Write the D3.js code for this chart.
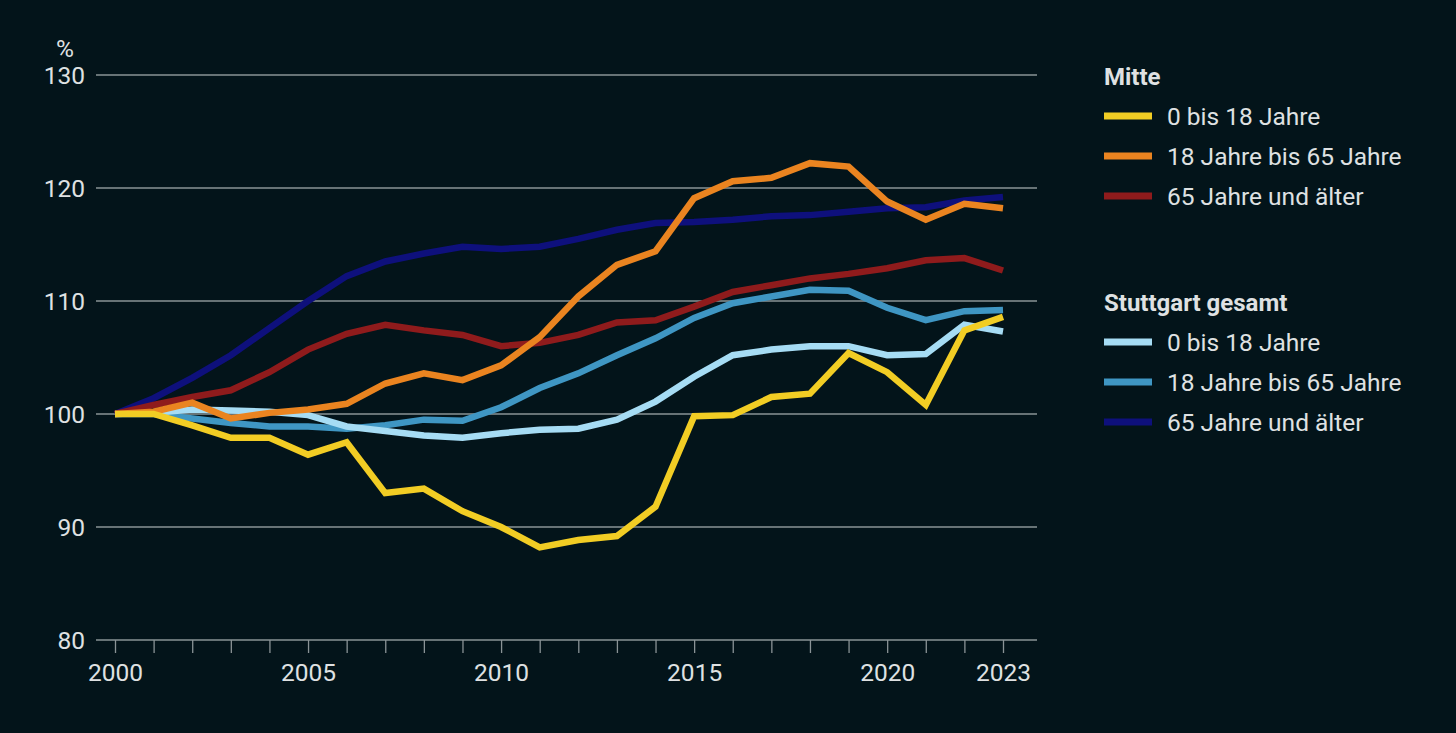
<!DOCTYPE html>
<html>
<head>
<meta charset="utf-8">
<script src="https://cdn.jsdelivr.net/npm/d3@7"></script>
<style>
  html, body { margin: 0; padding: 0; background: #03141a; }
  svg text { font-family: Roboto, "Noto Sans", sans-serif; }
</style>
</head>
<body>
<svg id="chart" width="1456" height="733"></svg>
<script>
var years = d3.range(2000, 2024);

// Mitte
var mitte0to18 = [100, 100, 99.0, 97.9, 97.9, 96.4, 97.5, 93.0, 93.4, 91.4, 90.0, 88.2,
  88.85, 89.2, 91.8, 99.8, 99.9, 101.5, 101.8, 105.4, 103.7, 100.8, 107.4, 108.6];
var mitte18to65 = [100, 100.2, 101.0, 99.6, 100.1, 100.4, 100.9, 102.7, 103.6, 103.0, 104.3, 106.8,
  110.4, 113.2, 114.4, 119.1, 120.6, 120.9, 122.2, 121.9, 118.8, 117.2, 118.6, 118.2];
var mitte65plus = [100, 100.8, 101.5, 102.1, 103.7, 105.7, 107.1, 107.9, 107.4, 107.0, 106.0, 106.3,
  107.0, 108.1, 108.3, 109.5, 110.8, 111.4, 112.0, 112.4, 112.9, 113.6, 113.8, 112.7];

// Stuttgart gesamt
var stgt0to18 = [100, 100.1, 100.4, 100.3, 100.2, 99.9, 98.9, 98.5, 98.1, 97.9, 98.3, 98.6,
  98.7, 99.5, 101.1, 103.3, 105.2, 105.7, 106.0, 106.0, 105.2, 105.3, 107.9, 107.3];
var stgt18to65 = [100, 100.0, 99.6, 99.2, 98.9, 98.9, 98.7, 99.0, 99.5, 99.4, 100.6, 102.3,
  103.6, 105.2, 106.7, 108.5, 109.8, 110.4, 111.0, 110.9, 109.4, 108.3, 109.1, 109.2];
var stgt65plus = [100, 101.4, 103.2, 105.2, 107.6, 110.0, 112.2, 113.5, 114.2, 114.8, 114.6, 114.8,
  115.5, 116.3, 116.9, 117.0, 117.2, 117.5, 117.6, 117.9, 118.2, 118.3, 118.9, 119.2];

var yTicks = [80, 90, 100, 110, 120, 130];
var xTickLabels = [2000, 2005, 2010, 2015, 2020, 2023];
var labels = ["0 bis 18 Jahre", "18 Jahre bis 65 Jahre", "65 Jahre und älter"];
var groupTitles = ["Mitte", "Stuttgart gesamt"];

var colorsMitte = ["#f2cd24", "#ea8420", "#8f1b1c"];
var colorsStgt = ["#a6dcf4", "#3f96c3", "#0e107c"];

var series = [
  { values: stgt65plus, color: colorsStgt[2] },
  { values: stgt18to65, color: colorsStgt[1] },
  { values: stgt0to18, color: colorsStgt[0] },
  { values: mitte65plus, color: colorsMitte[2] },
  { values: mitte18to65, color: colorsMitte[1] },
  { values: mitte0to18, color: colorsMitte[0] }
];

var svg = d3.select("#chart");
var textColor = "#dfe1e2";
var fs = 24.5;

var x = d3.scaleLinear().domain([2000, 2023]).range([115, 1003]);
var y = d3.scaleLinear().domain([80, 130]).range([640, 75]);

// grid
svg.append("g").selectAll("line")
  .data(yTicks.filter(function(d) { return d > 80; }))
  .enter().append("line")
  .attr("x1", 96).attr("x2", 1037)
  .attr("y1", function(d) { return y(d); })
  .attr("y2", function(d) { return y(d); })
  .attr("stroke", "#8a9396")
  .attr("stroke-width", 1.3);

// y labels
svg.append("g").selectAll("text")
  .data(yTicks)
  .enter().append("text")
  .attr("x", 85)
  .attr("y", function(d) { return y(d); })
  .attr("dy", "0.36em")
  .attr("text-anchor", "end")
  .attr("font-size", fs)
  .attr("fill", textColor)
  .text(function(d) { return d; });

svg.append("text")
  .attr("x", 65).attr("y", 48)
  .attr("dy", "0.36em")
  .attr("text-anchor", "middle")
  .attr("font-size", fs)
  .attr("fill", textColor)
  .text("%");

// x axis
var xAxis = d3.axisBottom(x)
  .tickValues(years)
  .tickSize(13)
  .tickFormat(function(d) { return xTickLabels.indexOf(d) >= 0 ? d : ""; });

var ax = svg.append("g")
  .attr("transform", "translate(0," + y(80) + ")")
  .call(xAxis);
ax.select(".domain").remove();
ax.selectAll(".tick line").attr("stroke", "#8a9396").attr("stroke-width", 1.3);
ax.selectAll(".tick text")
  .attr("font-size", fs)
  .attr("fill", textColor)
  .attr("y", 32)
  .attr("dy", "0.36em")
  .style("font-family", "Roboto, 'Noto Sans', sans-serif");
ax.append("line")
  .attr("x1", 96).attr("x2", 1037)
  .attr("stroke", "#8a9396").attr("stroke-width", 1.6);

// lines
var line = d3.line()
  .x(function(d, i) { return x(years[i]); })
  .y(function(d) { return y(d); });

svg.append("g").selectAll("path")
  .data(series)
  .enter().append("path")
  .attr("d", function(s) { return line(s.values); })
  .attr("fill", "none")
  .attr("stroke", function(s) { return s.color; })
  .attr("stroke-width", 6.5)
  .attr("stroke-linejoin", "miter")
  .attr("stroke-linecap", "butt");

// legend
function legendGroup(title, colors, top) {
  var g = svg.append("g");
  g.append("text")
    .attr("x", 1104).attr("y", top)
    .attr("dy", "0.36em")
    .attr("font-size", fs - 0.5)
    .attr("font-weight", "bold")
    .attr("fill", textColor)
    .text(title);
  labels.forEach(function(label, i) {
    var ly = top + 40 + i * 40;
    g.append("line")
      .attr("x1", 1104).attr("x2", 1152)
      .attr("y1", ly).attr("y2", ly)
      .attr("stroke", colors[i])
      .attr("stroke-width", 7);
    g.append("text")
      .attr("x", 1167).attr("y", ly)
      .attr("dy", "0.36em")
      .attr("font-size", fs)
      .attr("fill", textColor)
      .text(label);
  });
}
legendGroup(groupTitles[0], colorsMitte, 76);
legendGroup(groupTitles[1], colorsStgt, 302);
</script>
</body>
</html>
